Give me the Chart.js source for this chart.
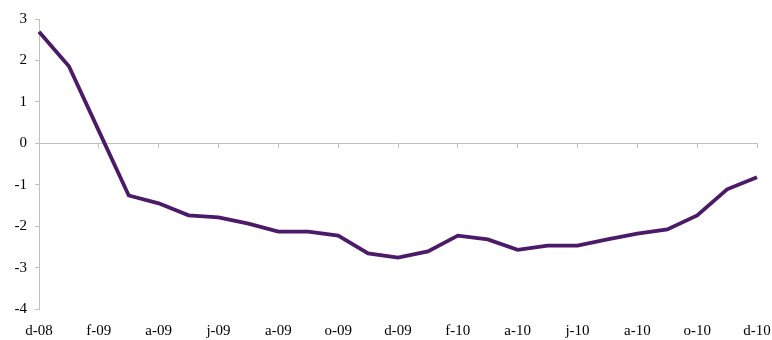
<!DOCTYPE html>
<html><head><meta charset="utf-8">
<script src="https://cdn.jsdelivr.net/npm/chart.js@4/dist/chart.umd.min.js"></script>
<style>html,body{margin:0;padding:0;background:#fff}#wrap{width:772px;height:340px}</style>
</head><body><div id="wrap"><canvas id="c" width="772" height="340"></canvas></div>
<script>
const months = ["d-08","j-09","f-09","m-09","a-09","m-09","j-09","j-09","a-09","s-09","o-09","n-09","d-09",
  "j-10","f-10","m-10","a-10","m-10","j-10","j-10","a-10","s-10","o-10","n-10","d-10"];
const values = [2.69,1.86,0.3,-1.26,-1.45,-1.74,-1.79,-1.94,-2.13,-2.13,-2.23,-2.66,-2.76,
  -2.61,-2.23,-2.32,-2.57,-2.47,-2.47,-2.32,-2.18,-2.08,-1.74,-1.11,-0.82];
const yTicks = {min:-4, max:3, step:1};

const font = {family:"'Liberation Serif','DejaVu Serif',serif", size:15};
new Chart(document.getElementById('c'), {
  type:'line',
  data:{labels:months, datasets:[{data:values, borderColor:'#4b1a68', borderWidth:3.8, pointRadius:0, tension:0, fill:false}]},
  options:{
    responsive:false, animation:false,
    layout:{padding:{top:19,right:15,left:0,bottom:0}},
    plugins:{legend:{display:false}, tooltip:{enabled:false}},
    scales:{
      x:{type:'category', position:'bottom', offset:false,
        grid:{display:false}, border:{display:false},
        ticks:{autoSkip:false, maxRotation:0, color:'#000', font:font, padding:5,
          callback:(v,i)=> i%2===0 ? months[i] : ''},
        afterFit:s=>{s.height=31; s.paddingRight=0; s.paddingLeft=0;}
      },
      x2:{type:'category', labels:months, position:{y:0}, offset:false,
        grid:{drawOnChartArea:false, tickLength:4, color:'#c0c0c0',
          tickColor:(ctx)=> ctx.index%2===0 ? '#c0c0c0' : 'rgba(0,0,0,0)'},
        border:{display:true, color:'#c0c0c0', width:1},
        ticks:{display:false, autoSkip:false}
      },
      y:{min:yTicks.min, max:yTicks.max,
        ticks:{stepSize:yTicks.step, color:'#000', font:font, padding:8},
        grid:{drawOnChartArea:false, tickLength:4, color:'#c0c0c0'},
        border:{display:true, color:'#c0c0c0', width:1},
        afterFit:s=>{s.width=39; s.paddingTop=0; s.paddingBottom=0;}
      }
    }
  }
});
</script></body></html>
